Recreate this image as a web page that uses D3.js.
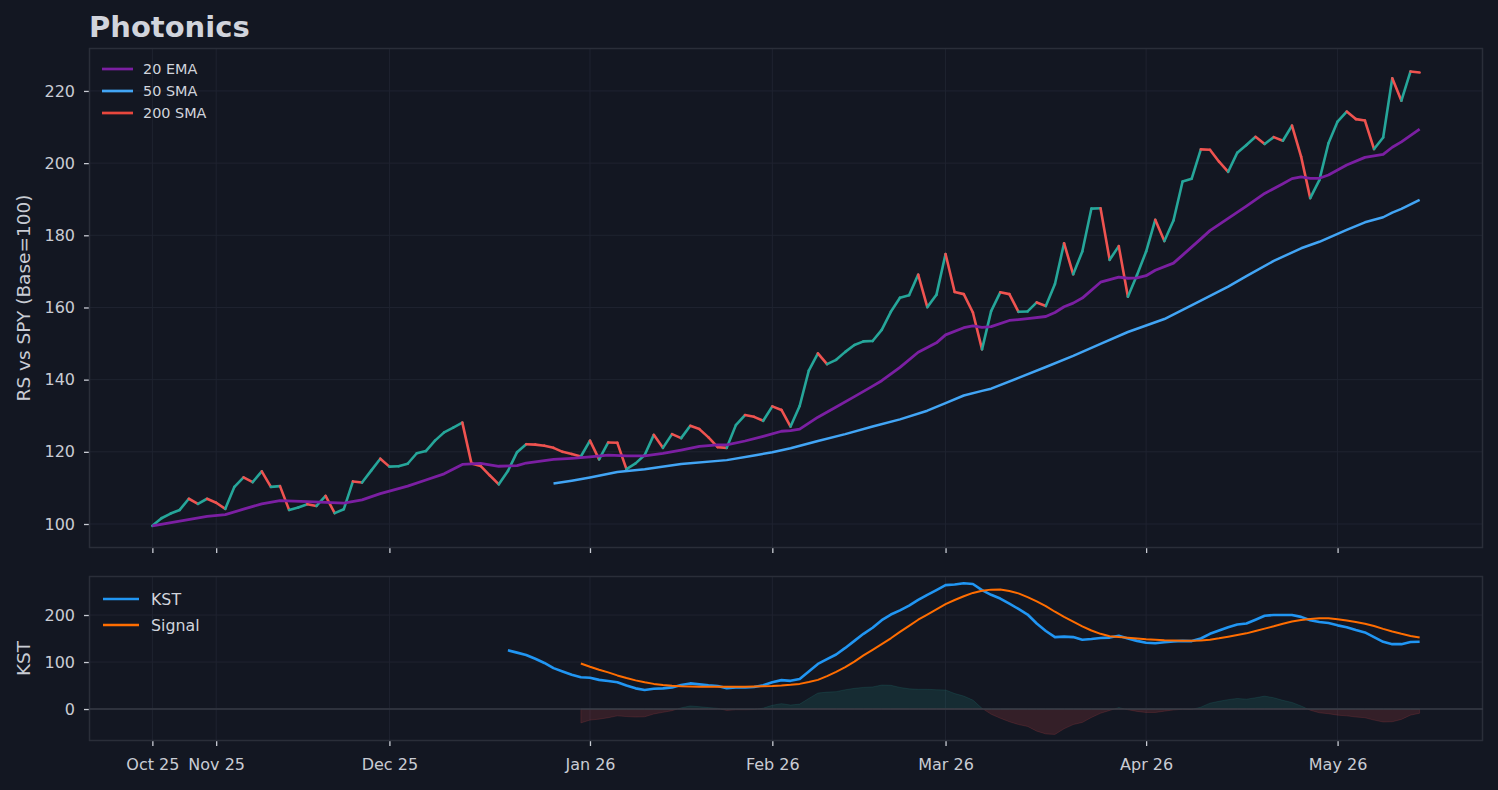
<!DOCTYPE html>
<html>
<head>
<meta charset="utf-8">
<script src="https://cdn.jsdelivr.net/npm/d3@7"></script>
<style>
  html, body { margin: 0; padding: 0; background: #131722; }
  svg { display: block; font-family: "DejaVu Sans", sans-serif; }
</style>
</head>
<body>
<div id="chart"></div>
<script>
// trading-day index based x axis, ticks at first session of each month
var tickIdx = [0, 7, 26, 48, 68, 87, 109, 130];
var tickLabels = ["Oct 25", "Nov 25", "Dec 25", "Jan 26", "Feb 26", "Mar 26", "Apr 26", "May 26"];

// relative strength vs SPY, rebased to 100
var rs = [
  99.5, 101.6, 102.9, 103.9, 107.0, 105.6, 107.0, 105.9, 104.2, 110.3,
  112.9, 111.6, 114.6, 110.3, 110.5, 103.9, 104.6, 105.5, 105.0, 107.8,
  103.0, 104.1, 111.8, 111.5, 114.8, 118.1, 115.9, 116.0, 116.7, 119.6,
  120.2, 123.1, 125.4, 126.7, 128.1, 116.8, 116.1, 113.5, 111.0, 114.7,
  119.9, 122.1, 122.0, 121.7, 121.1, 120.0, 119.4, 118.7, 123.1, 117.9,
  122.6, 122.5, 115.2, 116.8, 119.1, 124.7, 121.1, 124.9, 123.8, 127.2,
  126.3, 124.0, 121.3, 121.1, 127.4, 130.2, 129.7, 128.6, 132.6, 131.6,
  127.0, 132.7, 142.5, 147.3, 144.3, 145.5, 147.7, 149.6, 150.6, 150.7,
  153.8, 158.8, 162.7, 163.4, 169.1, 160.1, 163.5, 174.8, 164.3, 163.7,
  158.6, 148.4, 159.0, 164.2, 163.7, 158.8, 158.9, 161.4, 160.4, 166.5,
  177.8, 169.2, 175.5, 187.4, 187.5, 173.2, 177.0, 163.0, 169.0, 175.5,
  184.3, 178.4, 184.1, 194.9, 195.7, 203.8, 203.7, 200.4, 197.6, 202.9,
  205.0, 207.3, 205.3, 207.2, 206.2, 210.4, 201.8, 190.3, 195.3, 205.5,
  211.5, 214.3, 212.2, 211.8, 203.9, 207.1, 223.5, 217.3, 225.4, 225.1
];

// 20 EMA
var emaIdx = [0, 3, 6, 8, 10, 12, 14, 17, 19, 21, 23, 25, 28, 30, 32, 34, 36, 38, 40, 41,
  44, 46, 48, 50, 52, 54, 56, 58, 60, 62, 63, 65, 67, 69, 70, 71, 73, 75, 77, 79,
  80, 82, 84, 86, 87, 89, 90, 91, 92, 94, 96, 98, 99, 100, 101, 102, 104, 106, 107, 108,
  109, 110, 112, 113, 115, 116, 118, 120, 122, 124, 125, 126, 127, 128, 129, 131, 133, 135, 136, 137, 139];
var emaVal = [99.5, 100.8, 102.1, 102.6, 104.1, 105.6, 106.5, 106.2, 106.0, 105.8, 106.7, 108.4, 110.5, 112.2, 113.9, 116.5, 116.8, 116.0, 116.2, 116.9,
  117.9, 118.2, 118.6, 119.1, 118.9, 118.9, 119.6, 120.5, 121.5, 121.9, 121.9, 123.0, 124.3, 125.7, 125.9, 126.3, 129.6, 132.4, 135.3, 138.2,
  139.7, 143.4, 147.6, 150.2, 152.4, 154.4, 154.9, 154.5, 154.7, 156.4, 156.9, 157.5, 158.6, 160.2, 161.2, 162.6, 167.0, 168.4, 168.1, 168.2,
  168.8, 170.3, 172.3, 174.5, 179.0, 181.3, 184.7, 188.1, 191.6, 194.3, 195.7, 196.2, 195.8, 195.8, 196.7, 199.5, 201.6, 202.4, 204.4, 205.9, 209.4];

// 50 SMA
var smaIdx = [44, 46, 48, 51, 54, 58, 63, 66, 68, 70, 73, 76, 79, 82, 85, 87, 89, 91, 92,
  95, 98, 101, 104, 107, 111, 115, 118, 120, 123, 126, 128, 131, 133, 135, 136, 137, 139];
var smaVal = [111.2, 112.0, 112.9, 114.4, 115.2, 116.6, 117.7, 119.0, 119.9, 121.0, 123.0, 124.9, 127.0, 129.0, 131.4, 133.5, 135.6, 136.9, 137.5,
  140.5, 143.5, 146.6, 149.9, 153.2, 156.8, 161.9, 165.8, 168.7, 172.9, 176.4, 178.2, 181.5, 183.6, 185.0, 186.3, 187.3, 189.8];

// KST from index 39, signal from index 47
var kstStart = 39;
var kst = [
  125, 120, 115, 107, 98, 87, 80, 73, 67.5, 66.5,
  62, 59.5, 57, 50, 44, 40.5, 43, 44, 46, 51,
  54.5, 52.5, 50.5, 49, 44.5, 46, 46, 47, 50.5, 57,
  61.5, 60, 64, 80, 96, 106, 116, 130, 145, 160,
  173, 189, 201, 210, 220, 232, 243, 253, 263.5, 265,
  267.5, 266, 253, 243, 235, 224, 213, 201, 182, 166,
  153, 154, 153, 147.5, 149, 151, 152, 156, 150, 145,
  141, 140, 142, 144, 145, 144.5, 150, 160, 167, 174,
  180, 182, 190, 198.5, 200, 200, 200, 196, 189, 185,
  183, 178, 174, 168, 163, 153, 143, 138, 138, 142.5,
  143
];
var sigStart = 47;
var signal = [
  97, 90, 83.5, 78, 71.5, 66, 61, 57, 53.5, 51,
  49.5, 48.5, 48, 47.5, 47.5, 47.5, 47.5, 47.5, 47.5, 48,
  48.5, 49, 50, 51.5, 53.5, 57.5, 62, 70, 79, 89,
  101, 114, 126, 138, 150.5, 164, 177, 190, 201, 212,
  223, 232, 240, 247, 251.5, 254, 254.5, 251, 246, 238,
  229, 219, 207, 196, 186, 176, 167, 160, 155, 153,
  151.5, 150, 148.5, 147.5, 146.5, 146, 145.5, 145.5, 146, 147.5,
  150.5, 154, 157.5, 161, 166, 171, 176, 181.5, 186, 189.5,
  191.5, 193, 193, 191, 188.5, 185, 181.5, 176.5, 170.5, 165,
  160, 155.5, 152
];

var rsTicks = [100, 120, 140, 160, 180, 200, 220];
var kstTicks = [0, 100, 200];

var C = {
  bg: "#131722", spine: "#2a2e39", grid: "#1f2330", text: "#d1d4dc", tick: "#c9ccd4",
  up: "#26a69a", down: "#ef5350", ema: "#7b1fa2", sma: "#42a5f5", sma200: "#e8473d",
  kst: "#2196f3", sig: "#ff6d00"
};

var W = 1498, H = 790;
var L = 89, R = 1483;
var top1 = 48, bot1 = 548, top2 = 576, bot2 = 741;

var svg = d3.select("#chart").append("svg")
  .attr("width", W).attr("height", H);
svg.append("rect").attr("width", W).attr("height", H).attr("fill", C.bg);

var x = d3.scaleLinear().domain([-6.95, 145.95]).range([L, R]);
var y1 = d3.scaleLinear().domain([93.35, 231.9]).range([bot1, top1]);
var y2 = d3.scaleLinear().domain([-68, 283]).range([bot2, top2]);

var drawPanel = function(yScale, yTicks, top, bot, showLabels) {
  var g = svg.append("g");
  // grid
  g.selectAll(".vg").data(tickIdx).enter().append("line")
    .attr("x1", function(d) { return x(d); }).attr("x2", function(d) { return x(d); })
    .attr("y1", top).attr("y2", bot)
    .attr("stroke", C.grid).attr("stroke-width", 1);
  g.selectAll(".hg").data(yTicks).enter().append("line")
    .attr("x1", L).attr("x2", R)
    .attr("y1", function(d) { return yScale(d); }).attr("y2", function(d) { return yScale(d); })
    .attr("stroke", C.grid).attr("stroke-width", 1);

  var ay = g.append("g").attr("transform", "translate(" + L + ",0)")
    .call(d3.axisLeft(yScale).tickValues(yTicks).tickSize(5).tickPadding(9).tickFormat(d3.format("d")));
  var ax = g.append("g").attr("transform", "translate(0," + bot + ")")
    .call(d3.axisBottom(x).tickValues(tickIdx).tickSize(5).tickPadding(13)
      .tickFormat(function(d, i) { return showLabels ? tickLabels[i] : ""; }));
  [ay, ax].forEach(function(a) {
    a.select(".domain").remove();
    a.selectAll(".tick line").attr("stroke", C.tick).attr("stroke-width", 1.3);
    a.selectAll(".tick text").attr("fill", C.tick).style("font-size", "16px")
      .style("font-family", "DejaVu Sans, sans-serif");
  });

  g.append("rect").attr("x", L + 0.5).attr("y", top + 0.5)
    .attr("width", R - L - 1).attr("height", bot - top - 1)
    .attr("fill", "none").attr("stroke", C.spine).attr("stroke-width", 1.5);
  return g;
};

drawPanel(y1, rsTicks, top1, bot1, false);
drawPanel(y2, kstTicks, top2, bot2, true);

// RS line coloured by direction
var rsG = svg.append("g");
for (var i = 0; i < rs.length - 1; i++) {
  rsG.append("line")
    .attr("x1", x(i)).attr("y1", y1(rs[i]))
    .attr("x2", x(i + 1)).attr("y2", y1(rs[i + 1]))
    .attr("stroke", rs[i + 1] >= rs[i] ? C.up : C.down)
    .attr("stroke-width", 2.6).attr("stroke-linecap", "round");
}

var line1 = d3.line().x(function(d) { return x(d[0]); }).y(function(d) { return y1(d[1]); });
svg.append("path").datum(d3.zip(emaIdx, emaVal)).attr("d", line1)
  .attr("fill", "none").attr("stroke", C.ema).attr("stroke-width", 2.8).attr("stroke-linejoin", "round");
svg.append("path").datum(d3.zip(smaIdx, smaVal)).attr("d", line1)
  .attr("fill", "none").attr("stroke", C.sma).attr("stroke-width", 2.5).attr("stroke-linejoin", "round");

// KST panel: histogram of kst - signal, split at zero crossings
var diff = signal.map(function(s, k) { return [sigStart + k, kst[sigStart - kstStart + k] - s]; });
var pos = [], neg = [];
diff.forEach(function(p, k) {
  if (k > 0) {
    var q = diff[k - 1];
    if ((q[1] > 0 && p[1] < 0) || (q[1] < 0 && p[1] > 0)) {
      var t = q[1] / (q[1] - p[1]);
      var xc = q[0] + t * (p[0] - q[0]);
      pos.push([xc, 0]); neg.push([xc, 0]);
    }
  }
  pos.push([p[0], Math.max(p[1], 0)]);
  neg.push([p[0], Math.min(p[1], 0)]);
});
var area2 = d3.area().x(function(d) { return x(d[0]); }).y0(y2(0)).y1(function(d) { return y2(d[1]); });
svg.append("path").datum(pos).attr("d", area2).attr("fill", C.up).attr("fill-opacity", 0.15)
  .attr("stroke", C.up).attr("stroke-opacity", 0.15);
svg.append("path").datum(neg).attr("d", area2).attr("fill", C.down).attr("fill-opacity", 0.15)
  .attr("stroke", C.down).attr("stroke-opacity", 0.15);

svg.append("line").attr("x1", L).attr("x2", R).attr("y1", y2(0)).attr("y2", y2(0))
  .attr("stroke", "#363a45").attr("stroke-width", 1.6);

var line2 = d3.line().x(function(d) { return x(d[0]); }).y(function(d) { return y2(d[1]); });
svg.append("path").datum(kst.map(function(v, k) { return [kstStart + k, v]; })).attr("d", line2)
  .attr("fill", "none").attr("stroke", C.kst).attr("stroke-width", 2.6).attr("stroke-linejoin", "round");
svg.append("path").datum(signal.map(function(v, k) { return [sigStart + k, v]; })).attr("d", line2)
  .attr("fill", "none").attr("stroke", C.sig).attr("stroke-width", 2).attr("stroke-linejoin", "round");

// legends
var legend = function(items, x0, y0, dy, len, gap, fs, sw) {
  var g = svg.append("g");
  items.forEach(function(it, k) {
    var yy = y0 + k * dy;
    g.append("line").attr("x1", x0).attr("x2", x0 + len).attr("y1", yy).attr("y2", yy)
      .attr("stroke", it[1]).attr("stroke-width", sw);
    g.append("text").attr("x", x0 + len + gap).attr("y", yy).attr("dy", "0.36em")
      .attr("fill", C.text).style("font-size", fs + "px").text(it[0]);
  });
};
legend([["20 EMA", C.ema], ["50 SMA", C.sma], ["200 SMA", C.sma200]], 102, 69, 22, 31, 10, 14.4, 2.7);
legend([["KST", C.kst], ["Signal", C.sig]], 103, 599, 26, 36, 12, 15.8, 2.7);

// titles
svg.append("text").attr("x", 89).attr("y", 37).attr("fill", C.text)
  .style("font-size", "29px").style("font-weight", "bold").text("Photonics");
svg.append("text").attr("transform", "translate(30," + ((top1 + bot1) / 2) + ") rotate(-90)")
  .attr("text-anchor", "middle").attr("fill", C.tick).style("font-size", "18.5px")
  .text("RS vs SPY (Base=100)");
svg.append("text").attr("transform", "translate(30," + ((top2 + bot2) / 2) + ") rotate(-90)")
  .attr("text-anchor", "middle").attr("fill", C.tick).style("font-size", "18.5px")
  .text("KST");
</script>
</body>
</html>
